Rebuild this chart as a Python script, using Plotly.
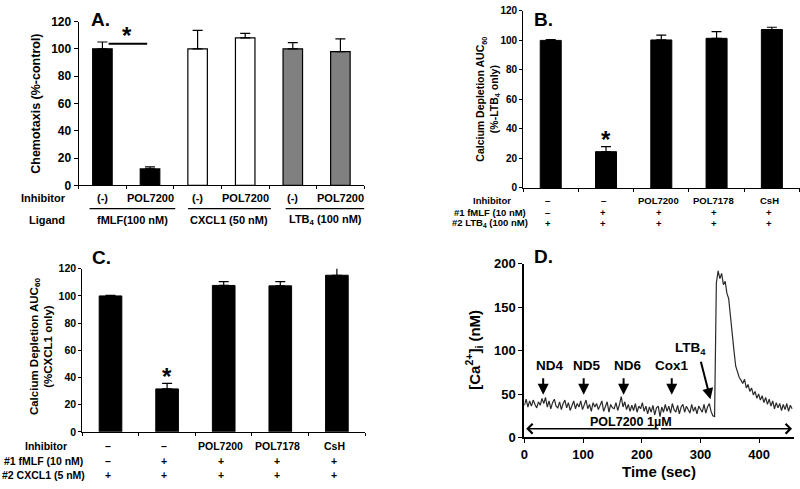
import plotly.graph_objects as go

W, H = 800, 489

# ---------------- data ----------------
a_inhibitor = ["(-)", "POL7200", "(-)", "POL7200", "(-)", "POL7200"]
a_ligand = ["fMLF(100 nM)", "CXCL1 (50 nM)", "LTB<sub>4</sub> (100 nM)"]
a_values = [100, 12, 100, 108, 100, 98]
a_errors = [5, 1.5, 13.5, 3.3, 4.6, 9.3]
a_colors = ["black", "black", "white", "white", "#808080", "#808080"]

b_inhibitor = ["–", "–", "POL7200", "POL7178", "CsH"]
b_fmlf = ["–", "+", "+", "+", "+"]
b_ltb4 = ["+", "+", "+", "+", "+"]
b_values = [100, 24.6, 100.3, 101.4, 107.4]
b_errors = [0.5, 3.4, 3.3, 4.6, 1.5]

c_inhibitor = ["–", "–", "POL7200", "POL7178", "CsH"]
c_fmlf = ["–", "+", "+", "+", "+"]
c_cxcl1 = ["+", "+", "+", "+", "+"]
c_values = [100, 31.6, 107.7, 107.4, 115.2]
c_errors = [0.4, 4.0, 2.8, 3.1, 10.3]

d_time = [3 * i for i in range(153)]
d_calcium = [
    37, 44, 35, 42, 36, 43, 38, 34, 41, 37, 45,
    39, 46, 35, 42, 33, 40, 44, 36, 34, 41,
    32, 39, 43, 34, 40, 31, 38, 42, 33, 39,
    35, 42, 32, 39, 43, 33, 38, 30, 40, 35,
    39, 32, 38, 42, 30, 37, 41, 29, 38, 34,
    33, 40, 31, 38, 47, 35, 41, 32, 38, 30,
    37, 31, 39, 29, 36, 33, 40, 30, 36, 27,
    35, 29, 37, 26, 34, 36, 24, 35, 29, 38,
    30, 36, 28, 39, 32, 29, 37, 27, 35, 38,
    29, 36, 32, 28, 38, 30, 35, 27, 36, 32,
    29, 38, 28, 35, 39, 30, 25,
    24, 178, 192, 183, 189, 176, 180, 166, 160, 138, 120, 100,
    82, 76, 69, 66, 62, 67, 57, 61, 53, 57, 49, 53, 45, 50,
    43, 48, 40, 46, 38, 44, 36, 42, 33, 40, 34, 39, 31, 38,
    32, 39, 30, 37, 33,
]
d_markers = ["ND4", "ND5", "ND6", "Cox1"]
d_marker_times = [32, 101, 169, 251]

FONT = "Liberation Sans, Arial, sans-serif"


def px_x(p):
    return p / W


def px_y(p):
    return 1 - p / H


fig = go.Figure()

# ---------------- Panel A ----------------
fig.add_trace(go.Bar(
    x=list(range(len(a_values))), y=a_values, width=0.41,
    marker=dict(color=a_colors, line=dict(color="black", width=1.2)),
    error_y=dict(type="data", symmetric=False, array=a_errors,
                 arrayminus=[0] * len(a_errors), color="black",
                 thickness=1.2, width=5),
    xaxis="x", yaxis="y", showlegend=False))

# ---------------- Panel B ----------------
fig.add_trace(go.Bar(
    x=list(range(len(b_values))), y=b_values, width=0.38,
    marker=dict(color="black", line=dict(color="black", width=1)),
    error_y=dict(type="data", symmetric=False, array=b_errors,
                 arrayminus=[0] * len(b_errors), color="black",
                 thickness=1.2, width=5),
    xaxis="x2", yaxis="y2", showlegend=False))

# ---------------- Panel C ----------------
fig.add_trace(go.Bar(
    x=list(range(len(c_values))), y=c_values, width=0.4,
    marker=dict(color="black", line=dict(color="black", width=1)),
    error_y=dict(type="data", symmetric=False, array=c_errors,
                 arrayminus=[0] * len(c_errors), color="black",
                 thickness=1.2, width=5),
    xaxis="x3", yaxis="y3", showlegend=False))

# ---------------- Panel D ----------------
fig.add_trace(go.Scatter(
    x=d_time, y=d_calcium, mode="lines",
    line=dict(color="#2a2a2a", width=1.2),
    xaxis="x4", yaxis="y4", showlegend=False))

axis_common = dict(showgrid=False, zeroline=False, showline=True,
                   linecolor="black", ticks="outside", tickcolor="black")

fig.update_layout(
    width=W, height=H,
    margin=dict(l=0, r=0, t=0, b=0),
    paper_bgcolor="white", plot_bgcolor="white",
    bargap=0,
    font=dict(family=FONT, color="black"),
    # A
    xaxis=dict(domain=[px_x(75), px_x(362)], range=[-0.5, 5.5],
               tickvals=[-0.5 + k for k in range(7)], showticklabels=False,
               ticklen=3, linewidth=1, anchor="y", **axis_common),
    yaxis=dict(domain=[px_y(184), px_y(15)], range=[0, 120], dtick=20,
               ticklen=4, linewidth=1, anchor="x",
               tickfont=dict(size=12, weight="bold"), **axis_common),
    # B
    xaxis2=dict(domain=[px_x(521.7), px_x(799.5)], range=[-0.5, 4.5],
                tickvals=[-0.5 + k for k in range(6)], showticklabels=False,
                ticklen=3, linewidth=1, anchor="y2", **axis_common),
    yaxis2=dict(domain=[px_y(186.7), px_y(4)], range=[0, 120], dtick=20,
                ticklen=3, linewidth=1, anchor="x2",
                tickfont=dict(size=10, weight="bold"), **axis_common),
    # C
    xaxis3=dict(domain=[px_x(78.6), px_x(363)], range=[-0.5, 4.5],
                tickvals=[-0.5 + k for k in range(6)], showticklabels=False,
                ticklen=3, linewidth=1, anchor="y3", **axis_common),
    yaxis3=dict(domain=[px_y(438.3), px_y(270)], range=[0, 120], dtick=20,
                ticklen=3, linewidth=1, anchor="x3",
                tickfont=dict(size=10.5, weight="bold"), **axis_common),
    # D
    xaxis4=dict(domain=[px_x(523), px_x(523 + 460 * 0.59)], range=[0, 460],
                dtick=100, ticklen=4, linewidth=2, anchor="y4",
                tickfont=dict(size=13, weight="bold"), **axis_common),
    yaxis4=dict(domain=[px_y(444), px_y(265)], range=[0, 200], dtick=50,
                ticklen=4, linewidth=2, anchor="x4",
                tickfont=dict(size=13, weight="bold"), **axis_common),
)

ann = []


def text(x, y, s, size, xref="paper", yref="paper", angle=0, xanchor="center",
         yanchor="middle"):
    ann.append(dict(x=x, y=y, text=s, xref=xref, yref=yref, showarrow=False,
                    textangle=angle, xanchor=xanchor, yanchor=yanchor,
                    font=dict(size=size, weight="bold", family=FONT, color="black")))


def arrow(x, y, ax, ay, head=2, width=2, size=1.1):
    ann.append(dict(x=x, y=y, ax=ax, ay=ay, xref="x4", yref="y4",
                    axref="x4", ayref="y4", text="", showarrow=True,
                    arrowhead=head, arrowsize=size, arrowwidth=width,
                    arrowcolor="black"))


# panel letters
text(px_x(85), px_y(13), "A.", 19, xanchor="left")
text(px_x(531), px_y(13), "B.", 19, xanchor="left")
text(px_x(86), px_y(258), "C.", 19, xanchor="left")
text(px_x(531), px_y(257), "D.", 19, xanchor="left")

# y titles
text(px_x(32), px_y(100), "Chemotaxis (%-control)", 12.5, angle=-90)
text(px_x(487), px_y(95),
     "Calcium Depletion AUC<sub>60</sub><br>(%-LTB<sub>4</sub> only)", 10.5, angle=-90)
text(px_x(37), px_y(350),
     "Calcium Depletion AUC<sub>60</sub><br>(%CXCL1 only)", 11.5, angle=-90)
text(px_x(472), px_y(354), "[Ca<sup>2+</sup>]<sub>i</sub> (nM)", 15, angle=-90)
text(px_x(658), px_y(479), "Time (sec)", 15)

# Panel A table
text(px_x(40), px_y(197), "Inhibitor", 11)
text(px_x(43), px_y(220), "Ligand", 11)
for i, s in enumerate(a_inhibitor):
    text(i, px_y(197), s, 11, xref="x")
group_centers = [0.63, 2.67, 4.68]
for c, s in zip(group_centers, a_ligand):
    text(c, px_y(220), s, 11, xref="x")

# Panel B table
text(px_x(490), px_y(200), "Inhibitor", 9.5)
text(px_x(488), px_y(212), "#1 fMLF (10 nM)", 9.5)
text(px_x(488), px_y(223), "#2 LTB<sub>4</sub> (100 nM)", 9.5)
for i in range(5):
    text(i - 0.05, px_y(200), b_inhibitor[i], 9.5, xref="x2")
    text(i - 0.05, px_y(212), b_fmlf[i], 9.5, xref="x2")
    text(i - 0.05, px_y(223), b_ltb4[i], 9.5, xref="x2")

# Panel C table
text(px_x(42), px_y(453), "Inhibitor", 10.5)
text(px_x(40), px_y(468), "#1 fMLF (10 nM)", 10.5)
text(px_x(40), px_y(483), "#2 CXCL1 (5 nM)", 10.5)
for i in range(5):
    text(i - 0.05, px_y(453), c_inhibitor[i], 10.5, xref="x3")
    text(i - 0.05, px_y(468), c_fmlf[i], 10.5, xref="x3")
    text(i - 0.05, px_y(483), c_cxcl1[i], 10.5, xref="x3")

# significance stars
text(0.52, 110, "*", 24, xref="x", yref="y")
text(1, 33, "*", 24, xref="x2", yref="y2")
text(1, 41, "*", 24, xref="x3", yref="y3")

# Panel D labels and arrows
label_times = [42, 106, 175, 251]
for t, lt, s in zip(d_marker_times, label_times, d_markers):
    text(lt, 83, s, 13.5, xref="x4", yref="y4")
    arrow(t, 49, t, 70)
text(283, 103, "LTB<sub>4</sub>", 13.5, xref="x4", yref="y4")
arrow(317, 44, 300, 89)
# double-headed POL7200 arrow (two halves from the middle)
arrow(456, 10, 230, 10, head=4, width=1.6, size=1.2)
arrow(3, 10, 231, 10, head=4, width=1.6, size=1.2)
text(181, 17.5, "POL7200 1µM", 12.5, xref="x4", yref="y4")

fig.update_layout(annotations=ann)

# shapes: significance bar and ligand underlines in A
shapes = [
    dict(type="line", xref="x", yref="y", x0=0.13, x1=0.94, y0=103.7, y1=103.7,
         line=dict(color="black", width=2)),
]
for x0, x1 in [(-0.27, 1.53), (1.80, 3.54), (3.85, 5.52)]:
    shapes.append(dict(type="line", xref="x", yref="paper", x0=x0, x1=x1,
                       y0=px_y(208), y1=px_y(208),
                       line=dict(color="black", width=1.3)))
fig.update_layout(shapes=shapes)

fig.write_html("out.html",
               config={"displayModeBar": False, "staticPlot": True},
               post_script="document.body.style.margin='0';"
                           "document.body.style.overflow='hidden';")
